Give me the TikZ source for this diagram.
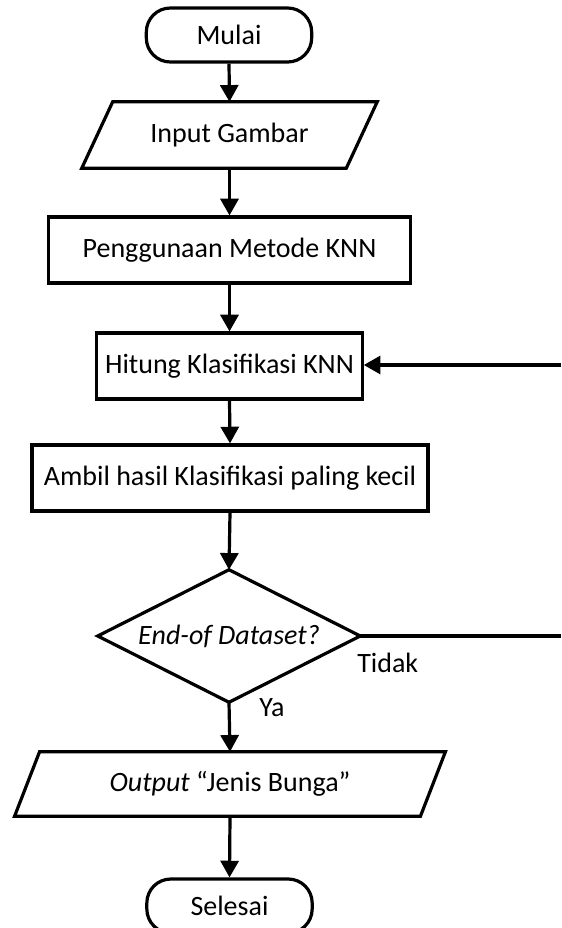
\documentclass[tikz,border=0pt]{standalone}
\usepackage{fontspec}
\setmainfont{Carlito}
\usetikzlibrary{arrows.meta,calc}
\tikzset{
  x=0.75pt, y=-0.75pt,
  ln/.style={line width=2.4pt, draw=black},
  arr/.style={ln, -{Triangle[width=13.5pt,length=12.5pt]}},
  txt/.style={font=\fontsize{21pt}{25pt}\selectfont, inner sep=0pt},
  term/.style={txt, ln, rectangle, rounded corners=18pt, minimum width=124pt, minimum height=40.5pt},
  proc/.style={txt, ln, rectangle, minimum height=49.5pt},
  ghost/.style={txt, rectangle, minimum height=49.5pt},
}
\begin{document}
\begin{tikzpicture}
\useasboundingbox (0,0) rectangle (561,928);
\clip (0,0) rectangle (561,928);
\fill[white] (0,0) rectangle (561,928);

\node[term] (mulai) at (229,35) {Mulai};
\node[ghost, minimum width=198pt] (in) at (229.5,135) {Input Gambar};
\draw[ln] ($(in.north west)+(15.5,0)$) -- ($(in.north east)+(15.5,0)$) -- ($(in.south east)+(-15.5,0)$) -- ($(in.south west)+(-15.5,0)$) -- cycle;
\node[proc, minimum width=272pt] (pm) at (229.5,250) {Penggunaan Metode KNN};
\node[proc, minimum width=199pt] (hk) at (229.5,366) {Hitung Klasifikasi KNN};
\node[proc, minimum width=297pt] (ab) at (230,478) {Ambil hasil Klasifikasi paling kecil};
\node[txt, rectangle, minimum width=196.5pt, minimum height=99pt] (d) at (229,636) {\itshape End-of Dataset?};
\draw[ln] (d.north) -- (d.east) -- (d.south) -- (d.west) -- cycle;
\node[txt, rectangle, minimum width=304pt, minimum height=48pt] (out) at (230,784) {\textit{Output} “Jenis Bunga”};
\draw[ln] ($(out.north west)+(12.5,0)$) -- ($(out.north east)+(12.5,0)$) -- ($(out.south east)+(-12.5,0)$) -- ($(out.south west)+(-12.5,0)$) -- cycle;
\node[term] (sel) at (229.5,906) {Selesai};

\coordinate (r1) at (561,365);
\coordinate (r2) at (561,636);

\draw[arr] (mulai.south) -- (in.north);
\draw[arr] (in.south) -- (pm.north);
\draw[arr] (pm.south) -- (hk.north);
\draw[arr] (hk.south) -- (ab.north);
\draw[arr] (ab.south) -- (d.north);
\draw[arr] (d.south) -- (out.north);
\draw[arr] (out.south) -- (sel.north);
\draw[arr] (r1) -- (hk.east |- r1);
\draw[ln] (d.east) -- (r2);

\node[txt, anchor=west] (tidak) at (357,663) {Tidak};
\node[txt, anchor=west] (ya) at (259,708) {Ya};
\end{tikzpicture}
\end{document}
